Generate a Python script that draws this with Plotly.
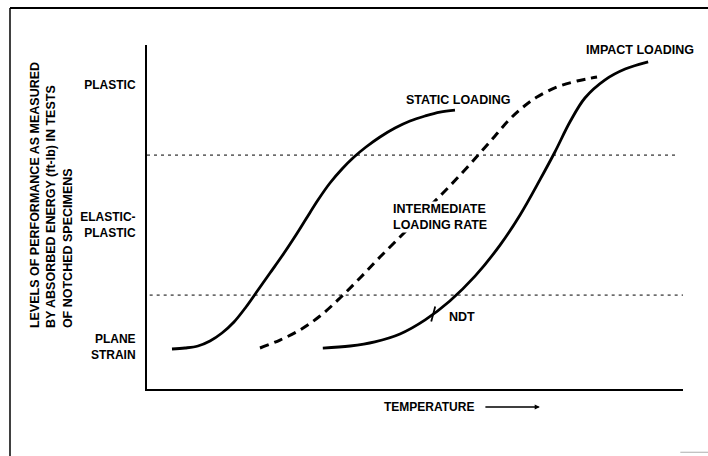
import plotly.graph_objects as go

# ---- data (temperature in arbitrary units 0-100, performance level 0-100) ----
static_x = [4.66, 7.09, 9.51, 11.75, 13.99, 16.23, 18.47, 20.71, 22.95, 25.19, 27.43, 29.66,
            31.90, 34.14, 36.38, 38.62, 40.86, 43.47, 46.27, 49.07, 51.87, 54.66, 57.46]
static_y = [11.63, 11.92, 12.50, 13.95, 16.28, 19.48, 23.84, 28.78, 33.72, 38.66, 43.90, 49.42,
            54.94, 59.88, 63.95, 67.44, 70.35, 73.26, 75.87, 77.91, 79.36, 80.52, 81.10]

inter_x = [21.08, 24.81, 28.54, 32.28, 36.01, 39.74, 43.47, 47.76, 51.49, 55.22, 58.77, 62.13,
           64.93, 67.35, 69.96, 72.76, 76.49, 80.22, 83.96]
inter_y = [11.92, 14.24, 17.15, 21.22, 26.45, 32.27, 38.37, 45.06, 51.16, 56.98, 62.79, 68.60,
           73.55, 77.91, 81.69, 84.88, 87.79, 89.53, 90.70]

impact_x = [32.8, 37.9, 42.5, 47.2, 51.9, 56.5, 61.2, 65.9, 69.6, 73.3, 76.1, 78.9, 81.7, 85.4, 89.2, 93.5]
impact_y = [11.9, 12.5, 13.7, 16.0, 20.1, 25.6, 32.8, 41.9, 50.6, 60.8, 68.9, 77.6, 84.6, 89.8, 93.0, 95.1]

ndt_x = [53.4]
ndt_y = [21.8]

boundary_y = [68.0, 27.3]          # plastic / elastic-plastic / plane-strain limits
boundary_x = [[0.0, 99.0], [0.5, 100.0]]

level_names = ["PLANE<br>STRAIN", "ELASTIC-<br>PLASTIC", "PLASTIC"]
level_pos = [12.2, 47.7, 88.4]

FONT = "Liberation Sans, Arial, sans-serif"

fig = go.Figure()

# dotted boundary lines
for by, bx in zip(boundary_y, boundary_x):
    fig.add_trace(go.Scatter(x=bx, y=[by, by], mode="lines",
                             line=dict(color="black", width=1, dash="3px,4px"),
                             hoverinfo="skip", showlegend=False))

fig.add_trace(go.Scatter(x=static_x, y=static_y, mode="lines", name="Static loading",
                         line=dict(color="black", width=2.8, shape="spline", smoothing=1.0),
                         showlegend=False))
fig.add_trace(go.Scatter(x=inter_x, y=inter_y, mode="lines", name="Intermediate loading rate",
                         line=dict(color="black", width=3, shape="spline", smoothing=1.0, dash="9px,6px"),
                         showlegend=False))
fig.add_trace(go.Scatter(x=impact_x, y=impact_y, mode="lines", name="Impact loading",
                         line=dict(color="black", width=2.8, shape="spline", smoothing=1.0),
                         showlegend=False))
fig.add_trace(go.Scatter(x=ndt_x, y=ndt_y, mode="markers", name="NDT",
                         marker=dict(symbol="line-ns-open", size=11, angle=15, color="black",
                                     line=dict(color="black", width=1.8)),
                         showlegend=False))

ann_font = dict(family=FONT, size=12.5, color="black", weight="bold")
fig.add_annotation(x=58.0, y=84.0, text="STATIC LOADING", showarrow=False, font=ann_font,
                   xanchor="center", yanchor="middle")
fig.add_annotation(x=92.0, y=98.5, text="IMPACT LOADING", showarrow=False, font=ann_font,
                   xanchor="center", yanchor="middle")
fig.add_annotation(x=54.7, y=50.0, text="INTERMEDIATE<br>LOADING RATE", showarrow=False,
                   font=ann_font, align="left", bgcolor="white", borderpad=0,
                   xanchor="center", yanchor="middle")
fig.add_annotation(x=58.8, y=20.9, text="NDT", showarrow=False, font=ann_font,
                   xanchor="center", yanchor="middle")

# y title (rotated, three lines)
fig.add_annotation(xref="paper", yref="paper", x=-0.177, y=0.564,
                   text="LEVELS OF PERFORMANCE AS MEASURED<br>BY ABSORBED ENERGY (ft-lb) IN TESTS<br>OF NOTCHED SPECIMENS",
                   textangle=-90, showarrow=False, align="left",
                   font=dict(family=FONT, size=12.5, color="black", weight="bold"),
                   xanchor="center", yanchor="middle")

# x title with arrow
fig.add_annotation(xref="paper", yref="paper", x=0.438, y=-0.0523, text="TEMPERATURE",
                   showarrow=False, font=dict(family=FONT, size=12, color="black", weight="bold"),
                   xanchor="left", yanchor="middle")
fig.add_annotation(xref="paper", yref="paper", x=0.733, y=-0.0523, ax=-56, ay=0,
                   text="", showarrow=True, arrowhead=2, arrowsize=0.8, arrowwidth=1.3,
                   arrowcolor="black")

# outer frame of the figure
fig.add_shape(type="line", xref="paper", yref="paper", x0=-0.2556, x1=-0.2556, y0=1.1076, y1=-0.2,
              line=dict(color="black", width=1.5))
fig.add_shape(type="line", xref="paper", yref="paper", x0=-0.2556, x1=1.05, y0=1.1076, y1=1.1076,
              line=dict(color="black", width=2))
fig.add_shape(type="line", xref="paper", yref="paper", x0=0.995, x1=1.05, y0=-0.184, y1=-0.184,
              line=dict(color="#bbbbbb", width=1.2))

fig.update_layout(
    width=708, height=456,
    margin=dict(l=147, r=25, t=45, b=67),
    paper_bgcolor="white", plot_bgcolor="white",
    font=dict(family=FONT, size=12, color="black"),
    showlegend=False,
    xaxis=dict(range=[0, 100], showline=True, linecolor="black", linewidth=2,
               showgrid=False, zeroline=False, showticklabels=False, ticks=""),
    yaxis=dict(range=[0, 100], showline=True, linecolor="black", linewidth=2,
               showgrid=False, zeroline=False, ticks="",
               tickvals=level_pos, ticktext=level_names, ticklabelstandoff=7,
               tickfont=dict(family=FONT, size=12, color="black", weight="bold")),
)

fig.write_html("out.html", config={"displayModeBar": False},
               post_script="document.body.style.margin='0';document.body.style.overflow='hidden';")
